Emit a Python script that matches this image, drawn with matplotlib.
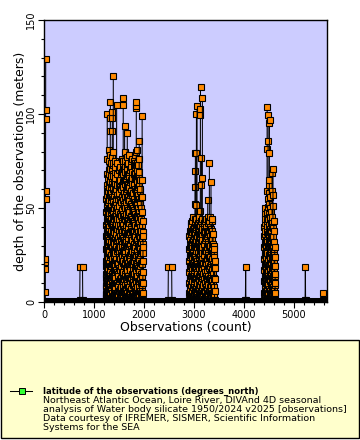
import numpy as np
import matplotlib.pyplot as plt
from matplotlib.colors import LinearSegmentedColormap, Normalize
from matplotlib.patches import Rectangle
from matplotlib.lines import Line2D
import matplotlib.cm as cm

# colour scale of the latitude (degrees_north)
cbar_ticks = [-90, -70, -50, -30, -10, 10, 30, 50, 70, 90]
cbar_colors = ['#800080', '#ff00ff', '#3300ff', '#00b0ff', '#00ff60',
               '#a8f000', '#ffd000', '#ff8000', '#ff0000', '#800000']
station_latitude = 47.3

# observations with depth: start index of each profile and its depths (m)
profile_start = [25,
                 1240, 1245, 1253, 1262, 1270, 1280, 1290, 1300, 1313, 1325,
                 1340, 1353, 1365, 1373, 1390, 1400, 1410, 1425, 1440, 1455,
                 1470, 1485, 1500, 1515, 1530, 1545, 1560, 1573, 1585, 1600,
                 1612, 1625, 1640, 1653, 1665, 1680, 1695, 1710, 1725, 1740,
                 1755, 1770, 1785, 1800, 1815, 1833, 1845, 1853, 1865, 1880,
                 1893, 1905, 1920, 1935, 1953, 1965, 1975,
                 2900, 2910, 2925, 2940, 2950, 2960, 2975, 2990, 3000, 3013,
                 3020, 3030, 3040, 3053, 3065, 3080, 3090, 3100, 3110, 3120,
                 3130, 3140, 3150, 3160, 3185, 3200, 3215, 3233, 3250, 3267,
                 3280, 3300, 3315, 3333, 3345, 3360, 3375, 3390, 3400, 3410,
                 4400, 4410, 4420, 4430, 4440, 4453, 4460, 4473, 4485, 4500,
                 4510, 4520, 4530, 4540, 4553, 4560, 4573, 4580, 4590, 4600,
                 4610, 4620]
profile_depth = [
    [0.5, 5.5, 17.5, 21.5, 23, 55, 59, 97.5, 102, 129.4],
    # first group
    [1, 4, 9, 15, 22, 28, 35, 41, 48, 55, 62],
    [2, 4, 8, 13, 19, 24, 30, 36, 43, 50, 57],
    [2, 6, 12, 18, 25, 31, 38, 45, 52, 60, 68, 76, 99.8],
    [1, 5, 10, 16, 21, 27, 33, 39, 45],
    [3, 7, 12, 17, 23, 29, 34, 41, 47, 53, 59, 66],
    [1, 4, 9, 14, 20, 26, 31, 37, 43, 49, 56, 63, 70],
    [3, 8, 14, 20, 26, 33, 40, 47, 54, 61, 68, 75, 81],
    [2, 5, 10, 15, 21, 27, 32, 38, 44, 50, 58, 65, 72],
    [1, 6, 11, 17, 24, 30, 36, 43, 50, 57, 64, 71, 78, 91, 98, 106.5],
    [1, 4, 8, 14, 19, 25, 30, 36, 42, 48, 54, 61, 67, 74],
    [2, 7, 13, 19, 25, 32, 38, 44, 51, 58, 64, 70],
    [1, 5, 10, 15, 23, 29, 35, 42, 49, 56, 63, 70, 77, 91, 98, 101],
    [2, 5, 9, 14, 20, 26, 32, 37, 43, 49, 55, 61, 68, 73],
    [3, 9, 14, 20, 27, 34, 40, 47, 53, 60, 67, 74, 80, 120.4],
    [1, 4, 9, 15, 21, 27, 33, 39, 45, 51, 58, 64],
    [1, 6, 12, 18, 24, 31, 37, 44, 50, 57, 63, 69, 75],
    [3, 6, 11, 16, 22, 28, 34, 40, 46, 52, 59, 66, 72],
    [2, 8, 13, 19, 26, 32, 39, 46, 53, 60],
    [1, 4, 10, 17, 23, 29, 36, 42, 49, 55, 62, 68, 74, 105],
    [2, 5, 10, 16, 21, 27, 33, 39, 44, 50, 57],
    [3, 8, 15, 21, 28, 34, 41, 48, 55],
    [1, 4, 9, 14, 20, 26, 32, 38, 45, 51, 57, 63, 70],
    [1, 6, 11, 18, 24, 30, 37, 44, 51, 58, 65, 72],
    [3, 7, 12, 17, 23, 29, 35, 41, 47, 54, 61],
    [2, 7, 12, 20, 26, 33, 39, 46, 53, 60, 68],
    [1, 4, 8, 13, 19, 25, 31, 37, 43, 49, 56, 62, 69, 76],
    [1, 5, 11, 16, 22, 29, 35, 42, 49, 56, 64, 72],
    [3, 9, 15, 21, 27, 34, 41, 47, 54, 61, 68, 75, 105, 108.7],
    [2, 6, 11, 16, 22, 28, 33, 39, 46, 52, 58, 65, 71],
    [1, 6, 12, 19, 25, 31, 38, 44, 51, 58, 65, 72, 79, 93.8],
    [1, 4, 9, 15, 21, 26, 32, 38, 44, 50, 56, 63, 69, 75, 80],
    [2, 7, 14, 20, 27, 33, 40, 46, 53, 59, 65],
    [3, 7, 12, 18, 23, 29, 35, 41, 47, 53, 60, 67, 73],
    [1, 5, 10, 17, 23, 30, 36, 43, 50, 56, 63, 70, 77, 90],
    [2, 5, 9, 14, 20, 26, 31, 37, 43, 49, 56, 62, 68, 74],
    [3, 8, 14, 21, 27, 34, 40, 47, 54, 61, 68, 78],
    [1, 4, 8, 13, 19, 24, 30, 36, 42, 48, 54, 61, 66],
    [1, 6, 12, 18, 25, 31, 37, 44, 51, 57, 64, 70],
    [3, 6, 11, 17, 22, 28, 34, 40, 46, 52, 58, 65, 72],
    [2, 7, 13, 20, 26, 33, 39, 45, 52, 59, 66, 76],
    [2, 5, 10, 15, 21, 27, 33, 38, 44, 51, 57, 63, 69],
    [1, 5, 11, 17, 24, 30, 37, 43, 50, 58],
    [1, 4, 9, 14, 20, 25, 31, 37, 43, 49, 55, 62, 68, 75],
    [3, 9, 15, 22, 28, 35, 42, 48, 55, 62, 68, 74],
    [3, 7, 12, 18, 24, 29, 35, 41, 47, 53, 60, 66, 72, 78],
    [1, 6, 12, 18, 25, 32, 38, 45, 52, 59, 66, 73, 80, 103, 104.5, 106.5],
    [2, 5, 10, 16, 21, 27, 33, 39, 45, 51, 57, 64, 70],
    [2, 8, 14, 20, 27, 33, 40, 46, 53, 60, 67, 74, 81],
    [1, 4, 8, 14, 19, 25, 31, 36, 42, 48, 55, 61, 67, 73],
    [1, 5, 11, 18, 24, 30, 37, 44, 50, 57, 66],
    [3, 9, 16, 22, 29, 35, 42, 48, 55, 62, 69, 76, 85.8],
    [3, 6, 11, 17, 23, 28, 34, 40, 46, 53, 59, 65],
    [1, 6, 12, 19, 25, 32, 38, 45, 52, 60],
    [2, 5, 10, 15, 21, 26, 32, 38, 44, 50, 56],
    [2, 7, 13, 20, 27, 34, 41, 48, 56, 65, 99],
    [1, 4, 9, 14, 20, 26, 31, 37, 43],
    [1, 5, 10, 16, 22, 29, 35],
    # second group
    [1, 5, 10, 16, 22, 28, 35],
    [2, 4, 8, 13, 18, 24, 29, 33, 38],
    [2, 7, 13, 19, 25, 31, 37, 42],
    [1, 4, 9, 14, 19, 25, 30, 36, 41],
    [1, 6, 11, 17, 23, 30],
    [3, 6, 11, 15, 21, 26, 32, 37, 43],
    [3, 8, 14, 20, 26, 33, 39, 45],
    [2, 5, 9, 14, 19, 25, 31, 36, 40],
    [1, 5, 11, 17, 23, 29, 35, 38],
    [2, 7, 13, 19, 25, 32, 38, 44, 52, 61, 69.7],
    [1, 6, 12, 18, 24, 30, 36, 42, 79.4],
    [1, 4, 8, 13, 18, 23, 29, 34, 39, 44],
    [3, 8, 14, 20, 27, 33, 40, 51.6, 79.4, 100],
    [1, 5, 10, 16, 22, 29, 35, 41, 104.4],
    [3, 6, 10, 15, 20, 26, 31, 37, 42],
    [2, 7, 13, 19, 26, 32, 40],
    [2, 4, 9, 14, 19, 24, 29, 34, 40, 44],
    [1, 6, 12, 18, 24, 31, 37, 45],
    [1, 5, 9, 14, 20, 25, 30, 36, 41],
    [3, 9, 15, 21, 28, 34, 41, 48.6, 99.5, 102.6, 114.5],
    [3, 6, 11, 16, 21, 27, 32, 38, 43],
    [1, 5, 11, 17, 23, 30, 36, 43, 62, 76.8],
    [2, 4, 8, 13, 18, 24, 29, 35, 40, 44],
    [2, 8, 14, 20, 26, 33, 39, 66, 108.7],
    [1, 5, 9, 15, 20, 26, 31, 37, 41],
    [1, 6, 12, 18, 25, 31, 37, 42],
    [3, 6, 10, 16, 21, 27, 33, 38, 43],
    [3, 8, 14, 21, 27, 34, 40, 44.3],
    [1, 5, 11, 17, 23, 29, 35, 38],
    [2, 7, 13, 19, 26, 32, 38, 45, 54],
    [2, 5, 9, 14, 20, 25, 31, 36, 42],
    [1, 6, 12, 18, 24, 30, 37, 43, 74],
    [1, 4, 8, 13, 19, 24, 30, 35, 40, 45],
    [3, 9, 15, 21, 27, 33, 39, 64],
    [3, 6, 11, 16, 22, 27, 33, 38, 43],
    [1, 5, 11, 17, 23, 29, 36, 44.3],
    [2, 5, 9, 15, 20, 26, 31, 36],
    [2, 7, 13, 19, 25, 30],
    [1, 4, 8, 13, 18, 24, 28],
    [1, 6, 12, 18, 22],
    # third group
    [1, 5, 11, 17, 23, 29, 35, 40],
    [2, 4, 9, 14, 20, 25, 31, 36, 42, 47],
    [2, 7, 13, 19, 26, 32, 38, 44, 50],
    [1, 5, 10, 15, 21, 27, 33],
    [1, 6, 12, 18, 24, 30],
    [3, 8, 14, 20, 27, 33, 40, 46.8, 59, 81.3, 103.9],
    [2, 6, 10, 16, 21, 26, 32, 37, 43, 48, 55],
    [1, 5, 11, 17, 23, 30, 36, 44, 50.7, 85.8, 99.5],
    [1, 4, 9, 14, 19, 25, 30, 35, 41, 47, 52, 58, 62],
    [2, 7, 13, 19, 25, 32, 38, 65, 79, 95, 97],
    [3, 6, 11, 16, 22, 27, 33, 39, 44, 50, 56],
    [1, 6, 12, 18, 24, 31, 37, 45],
    [2, 5, 9, 14, 20, 26, 31, 36, 42, 48],
    [3, 9, 15, 21, 28, 33, 38],
    [1, 5, 11, 17, 23, 29, 35, 42, 59, 68.4],
    [1, 4, 8, 13, 18, 24, 29, 34, 40, 45, 51, 57],
    [2, 8, 14, 20, 26, 32, 39.5, 70.9],
    [1, 6, 12, 18, 24, 30, 35],
    [2, 6, 11, 16, 22, 27, 32, 38, 43],
    [2, 7, 13, 19, 25],
    [1, 5, 9, 14, 19, 24, 29],
    [1, 5, 10, 15],
]

# isolated observations off the surface
spike_obs = [[715, 720, 770, 775], [2482, 2487, 2553, 2558],
             [4028, 4033, 4038], [5222, 5227, 5232], [5582, 5587, 5640]]
spike_depth = [[0.8, 18.8, 18.8, 0.8], [0.8, 18.8, 18.8, 0.8],
               [0.8, 18.8, 0.8], [0.8, 18.8, 0.8], [0.8, 4.6, 0.8]]

# surface observations (dense run along the bottom)
surface_runs = [(0, 5660)]
surface_depth = 1.0

legend_title = "latitude of the observations (degrees_north)"
legend_lines = ["Northeast Atlantic Ocean, Loire River, DIVAnd 4D seasonal",
                "analysis of Water body silicate 1950/2024 v2025 [observations]",
                "Data courtesy of IFREMER, SISMER, Scientific Information",
                "Systems for the SEA"]

W, H = 360, 440
cmap = LinearSegmentedColormap.from_list(
    'lat', list(zip(np.linspace(0, 1, len(cbar_colors)), cbar_colors)))
norm = Normalize(-90, 90)
mcolor = cmap(norm(station_latitude))

fig = plt.figure(figsize=(W / 100, H / 100), dpi=100)
ax = fig.add_axes([44 / W, 1 - 302 / H, 283 / W, 282 / H])
ax.set_facecolor('#ccccff')

for s, e in surface_runs:
    ax.plot([s, e], [surface_depth, surface_depth], color='black', lw=2.9,
            solid_capstyle='butt', zorder=3)

style = dict(color='black', lw=0.75, marker='s', ms=4.3, mfc=mcolor,
             mec='black', mew=0.8)
for start, depths in zip(profile_start, profile_depth):
    obs = start + np.arange(len(depths))
    ax.plot(obs, depths, **style)
for obs, depths in zip(spike_obs, spike_depth):
    ax.plot(obs, depths, **style)

ax.set_xlim(0, 5660)
ax.set_ylim(0, 150)
ax.set_xticks(range(0, 5001, 1000))
ax.set_xticks(range(0, 5660, 200), minor=True)
ax.set_yticks([0, 50, 100, 150])
ax.set_yticks(range(0, 151, 10), minor=True)
ax.tick_params(which='major', length=4, width=0.8, labelsize=7, pad=1.5)
ax.tick_params(which='minor', length=2.2, width=0.8)
for lab in ax.get_yticklabels():
    lab.set_rotation(90)
    lab.set_va('center')
for sp in ax.spines.values():
    sp.set_linewidth(1.0)

ax.set_xlabel('Observations (count)', fontsize=9)
ax.set_ylabel('depth of the observations (meters)', fontsize=9)
ax.xaxis.set_label_coords(0.5, -0.068)
ax.yaxis.set_label_coords(-0.06, 0.5)

# legend panel
fig.add_artist(Rectangle((1 / W, 1 - 438 / H), 358 / W, 98 / H,
                         transform=fig.transFigure, facecolor='#ffffcc',
                         edgecolor='black', lw=1.0))
cax = fig.add_axes([41 / W, 1 - 367 / H, 294 / W, 15 / H])
cb = fig.colorbar(cm.ScalarMappable(norm=norm, cmap=cmap), cax=cax,
                  orientation='horizontal', ticks=cbar_ticks)
cb.outline.set_visible(False)
cax.tick_params(length=0, labelsize=7, pad=5)

fig.add_artist(Line2D([10 / W, 32 / W], [1 - 391 / H, 1 - 391 / H],
                      transform=fig.transFigure, color='black', lw=0.75))
fig.add_artist(Line2D([21.5 / W], [1 - 391 / H], transform=fig.transFigure,
                      marker='s', ms=4.3, mfc='#33ff33', mec='black', mew=0.7))
fig.text(43 / W, 1 - 391 / H, legend_title, fontsize=6.1, fontweight='bold',
         va='center', ha='left')
for i, line in enumerate(legend_lines):
    fig.text(43 / W, 1 - (400 + 9 * i) / H, line, fontsize=6.8,
             va='center', ha='left')

fig.savefig('out.png', dpi=100)
